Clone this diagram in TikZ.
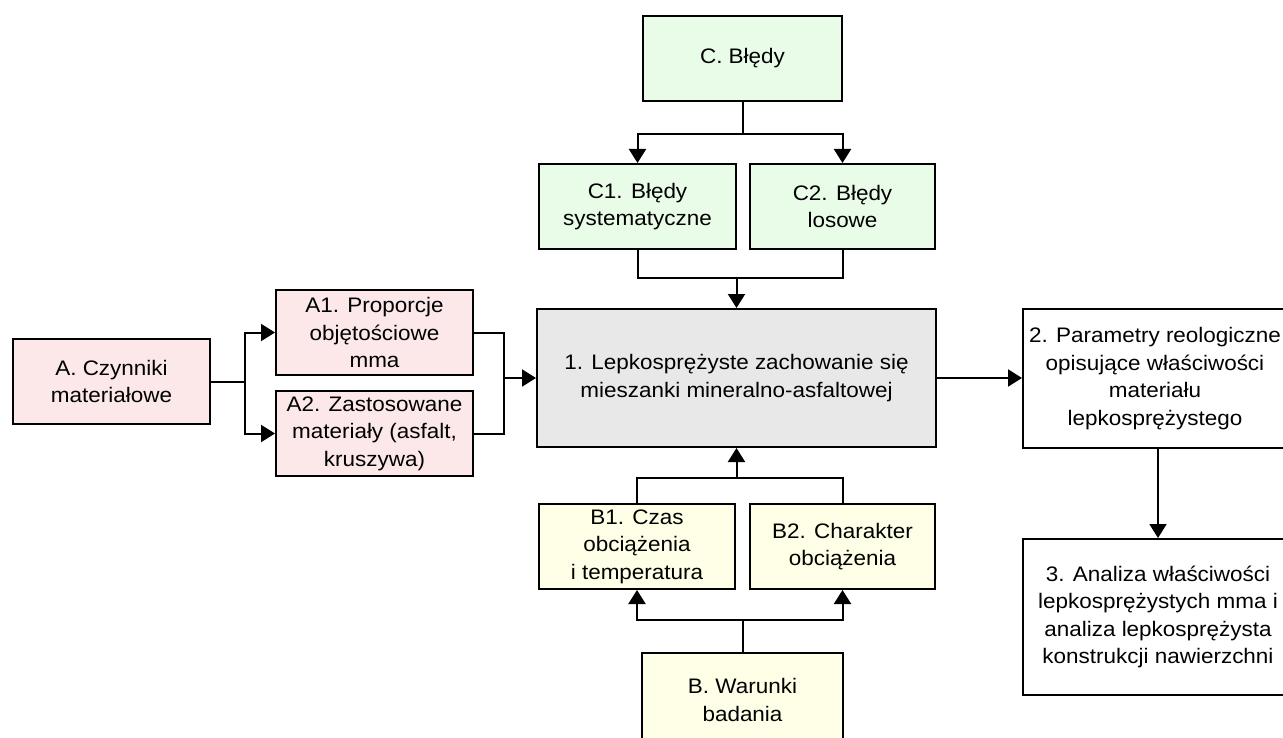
\documentclass[tikz,border=0pt]{standalone}
\usepackage{fontspec}
\setmainfont{Liberation Sans}[FakeStretch=1.07]
\usetikzlibrary{arrows.meta,calc}
\definecolor{pinkfill}{HTML}{FCE8E8}
\definecolor{greenfill}{HTML}{E8FCE8}
\definecolor{yellowfill}{HTML}{FFFFE8}
\definecolor{grayfill}{HTML}{E8E8E8}
\tikzset{
  box/.style={draw=black, line width=2pt, align=center, inner sep=0pt,
    font=\fontsize{21}{27.5}\selectfont, text=black},
  pinkbox/.style={box, fill=pinkfill},
  greenbox/.style={box, fill=greenfill},
  yellowbox/.style={box, fill=yellowfill},
  graybox/.style={box, fill=grayfill},
  whitebox/.style={box, fill=white},
  conn/.style={line width=2pt},
  arr/.style={conn, -{Triangle[length=14pt,width=17pt]}}
}
\begin{document}
\begin{tikzpicture}[x=1pt,y=-1pt]
\useasboundingbox (0,0) rectangle (1283,738);
\clip (0,0) rectangle (1283,738);
\fill[white] (0,0) rectangle (1283,738);

\node[greenbox, minimum width=199pt, minimum height=85pt] (C) at (742.5,58.5) {C. Błędy};
\node[greenbox, minimum width=197pt, minimum height=85pt] (C1) at (637.5,206.5) {C1. Błędy\\systematyczne};
\node[greenbox, minimum width=185pt, minimum height=85pt] (C2) at (842.5,206.5) {C2. Błędy\\losowe};

\node[graybox, minimum width=399pt, minimum height=138pt] (M) at (736.5,378) {1. Lepkosprężyste zachowanie się\\mieszanki mineralno-asfaltowej};

\node[pinkbox, minimum width=197pt, minimum height=85pt] (A) at (111.5,381.5) {A. Czynniki\\materiałowe};
\node[pinkbox, minimum width=197pt, minimum height=85pt] (A1) at (374.5,332.5) {A1. Proporcje\\objętościowe\hspace*{12pt}\\mma};
\node[pinkbox, minimum width=197pt, minimum height=85pt] (A2) at (374.5,433.5) {A2. Zastosowane\\materiały (asfalt,\\kruszywa)};

\node[whitebox, minimum width=264pt, minimum height=139pt] (R2) at (1155,378.5) {2. Parametry reologiczne\\opisujące właściwości\\materiału\\lepkosprężystego};
\node[whitebox, minimum width=270pt, minimum height=156pt] (R3) at (1158,617) {3. Analiza właściwości\\lepkosprężystych mma i\\analiza lepkosprężysta\\konstrukcji nawierzchni};

\node[yellowbox, minimum width=196pt, minimum height=85pt] (B1) at (637,546.5) {B1. Czas\\obciążenia\hspace*{12pt}\\i temperatura};
\node[yellowbox, minimum width=185pt, minimum height=85pt] (B2) at (842.5,546.5) {B2. Charakter\\obciążenia};
\node[yellowbox, minimum width=201pt, minimum height=94pt] (B) at (742.5,700) {B. Warunki\\badania};

% C -> C1, C2
\coordinate (cj) at ($(C.south)+(0,32)$);
\draw[conn] (C.south) -- (cj);
\draw[arr] (cj) -| (C1.north);
\draw[arr] (cj) -| (C2.north);
% C1, C2 -> M
\coordinate (cm) at ($(M.north)+(0,-30)$);
\draw[conn] (C1.south) |- (cm) -| (C2.south);
\draw[arr] (cm) -- (M.north);
% B -> B1, B2
\coordinate (bj) at ($(B.north)+(0,-32)$);
\draw[conn] (B.north) -- (bj);
\draw[arr] (bj) -| (B1.south);
\draw[arr] (bj) -| (B2.south);
% B1, B2 -> M
\coordinate (bm) at ($(M.south)+(0,30)$);
\draw[conn] (B1.north) |- (bm) -| (B2.north);
\draw[arr] (bm) -- (M.south);
% A -> A1, A2
\coordinate (aj) at ($(A.east)+(34,0)$);
\draw[conn] (A.east) -- (aj);
\draw[arr] (aj) |- (A1.west);
\draw[arr] (aj) |- (A2.west);
% A1, A2 -> M
\coordinate (am) at ($(M.west)+(-32,0)$);
\draw[conn] (A1.east) -| (am) |- (A2.east);
\draw[arr] (am) -- (M.west);
% M -> R2
\draw[arr] (M.east) -- (M.east -| R2.west);
% R2 -> R3
\draw[arr] (R2.south -| R3.north) -- (R3.north);
\end{tikzpicture}
\end{document}
